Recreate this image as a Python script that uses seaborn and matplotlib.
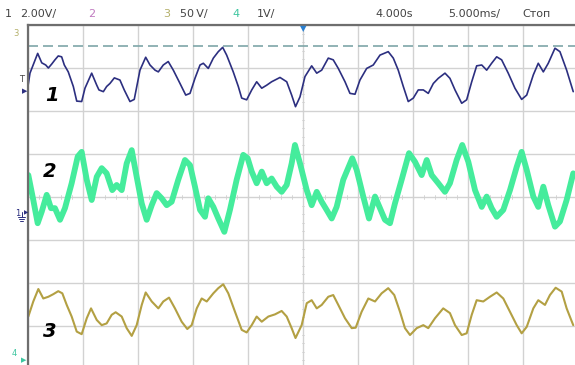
import numpy as np
import pandas as pd
import matplotlib
matplotlib.use("Agg")
import matplotlib.pyplot as plt
from matplotlib.lines import Line2D
import seaborn as sns

# time axis in ms (5 ms/div), levels in screen divisions (0 = centre line)
t1 = [0.00, 0.18, 0.88, 1.25, 1.61, 1.85, 2.15, 2.45, 2.75, 3.06, 3.30, 3.66, 4.12, 4.43, 4.88,
      5.18, 5.79, 6.25, 6.45, 6.85, 7.15, 7.45, 7.85, 8.36, 8.75, 9.27, 9.66, 10.18, 10.70, 11.09,
      11.55, 11.85, 12.30, 12.75, 13.21, 13.82, 14.34, 14.73, 15.18, 15.64, 15.94, 16.39, 16.85,
      17.30, 17.70, 18.06, 18.66, 19.12, 19.43, 19.88, 20.34, 20.79, 21.25, 21.70, 22.15, 22.91,
      23.52, 23.97, 24.32, 24.73, 25.18, 25.79, 26.25, 26.70, 27.30, 27.75, 28.21, 28.82, 29.27,
      29.73, 30.18, 30.79, 31.39, 32.00, 32.75, 33.21, 33.66, 34.12, 34.57, 35.03, 35.48, 35.94,
      36.39, 36.85, 37.30, 37.91, 38.36, 38.82, 39.43, 39.88, 40.34, 40.79, 41.25, 41.70, 42.15,
      42.61, 43.06, 43.66, 44.27, 44.88, 45.34, 45.94, 46.39, 46.85, 47.30, 47.91, 48.36, 48.97, 49.57]
v1 = [2.58, 2.88, 3.34, 3.12, 3.07, 3.00, 3.09, 3.19, 3.28, 3.26, 3.07, 2.91, 2.57, 2.23, 2.22,
      2.53, 2.88, 2.60, 2.49, 2.45, 2.57, 2.64, 2.77, 2.72, 2.49, 2.22, 2.27, 2.95, 3.25, 3.07,
      2.95, 2.91, 3.07, 3.15, 2.95, 2.64, 2.37, 2.41, 2.76, 3.07, 3.11, 2.99, 3.23,
      3.38, 3.48, 3.30, 2.91, 2.57, 2.30, 2.26, 2.49, 2.68, 2.53, 2.60, 2.68, 2.78,
      2.68, 2.37, 2.10, 2.33, 2.80, 3.05, 2.88, 2.95, 3.23, 3.19, 2.99, 2.68, 2.41,
      2.39, 2.72, 2.99, 3.07, 3.30, 3.38, 3.23, 2.95, 2.57, 2.22, 2.30, 2.49, 2.49,
      2.41, 2.64, 2.76, 2.88, 2.76, 2.49, 2.18, 2.26, 2.68, 3.05, 3.07, 2.95, 3.11,
      3.26, 3.19, 2.88, 2.53, 2.27, 2.37, 2.84, 3.11, 2.91, 3.11, 3.46, 3.38, 2.95, 2.45]

t2 = [0.03, 0.48, 0.88, 1.25, 1.70, 2.09, 2.45, 2.91, 3.36, 3.97, 4.52, 4.88, 5.34, 5.79, 6.25,
      6.70, 7.15, 7.66, 8.06, 8.52, 8.97, 9.43, 9.88, 10.34, 10.79, 11.25, 11.70, 12.15, 12.61,
      13.06, 13.66, 14.27, 14.73, 15.18, 15.64, 16.09, 16.39, 16.85, 17.30, 17.85, 18.36, 18.97,
      19.57, 19.97, 20.34, 20.79, 21.25, 21.70, 22.15, 22.61, 23.06, 23.52, 23.97, 24.27, 24.73,
      25.34, 25.79, 26.25, 26.70, 27.15, 27.61, 28.06, 28.66, 29.48, 29.88, 30.48, 31.00, 31.55,
      32.00, 32.45, 32.91, 33.36, 33.97, 34.64, 35.18, 35.79, 36.25, 36.70, 37.30, 37.91, 38.36,
      38.97, 39.48, 40.03, 40.64, 41.25, 41.70, 42.15, 42.61, 43.21, 43.82, 44.43, 44.88, 45.34,
      45.94, 46.39, 46.85, 47.30, 47.91, 48.36, 48.97, 49.57]
v2 = [0.51, -0.07, -0.61, -0.34, 0.05, -0.26, -0.26, -0.53, -0.26, 0.32, 0.94, 1.05, 0.40, -0.07, 0.47,
      0.67, 0.55, 0.16, 0.28, 0.16, 0.78, 1.09, 0.47, -0.15, -0.53, -0.19, 0.09, -0.03, -0.19,
      -0.11, 0.40, 0.86, 0.74, 0.24, -0.30, -0.46, -0.03, -0.23, -0.50, -0.81, -0.30, 0.40,
      0.98, 0.90, 0.59, 0.32, 0.59, 0.32, 0.43, 0.24, 0.12, 0.28, 0.78, 1.21, 0.78,
      0.16, -0.19, 0.12, -0.11, -0.30, -0.50, -0.23, 0.40, 0.90, 0.63, 0.01, -0.50, 0.01,
      -0.26, -0.53, -0.61, -0.15, 0.40, 1.02, 0.82, 0.51, 0.86, 0.51, 0.32, 0.12, 0.32,
      0.86, 1.21, 0.82, 0.16, -0.23, 0.01, -0.26, -0.46, -0.30, 0.16, 0.70, 1.05, 0.63,
      0.01, -0.23, 0.24, -0.19, -0.69, -0.57, -0.07, 0.55]

t3 = [0.03, 0.48, 0.94, 1.39, 1.85, 2.30, 2.75, 3.12, 3.52, 3.97, 4.43, 4.88, 5.34, 5.73, 6.25,
      6.70, 7.15, 7.61, 7.97, 8.52, 8.97, 9.43, 9.88, 10.34, 10.70, 11.25, 11.85, 12.30, 12.82,
      13.36, 13.97, 14.48, 14.88, 15.34, 15.79, 16.25, 16.85, 17.30, 17.75, 18.21, 18.82, 19.43,
      19.88, 20.34, 20.79, 21.25, 21.85, 22.45, 23.06, 23.52, 23.97, 24.32, 24.88, 25.34, 25.79,
      26.25, 26.70, 27.30, 27.75, 28.21, 28.82, 29.43, 29.79, 30.33, 30.94, 31.55, 32.15, 32.75,
      33.30, 33.82, 34.27, 34.73, 35.34, 35.94, 36.39, 37.00, 37.75, 38.36, 38.82, 39.43, 39.88,
      40.34, 40.79, 41.39, 42.00, 42.61, 43.21, 43.82, 44.43, 44.88, 45.34, 45.94, 46.39, 47.00,
      47.45, 47.97, 48.52, 48.97, 49.57]
v3 = [-2.78, -2.43, -2.14, -2.36, -2.32, -2.26, -2.19, -2.24, -2.51, -2.78, -3.13, -3.19, -2.82, -2.59, -2.86,
      -2.98, -2.94, -2.74, -2.68, -2.78, -3.05, -3.23, -2.98, -2.51, -2.22, -2.43, -2.59, -2.43, -2.34,
      -2.59, -2.90, -3.07, -2.98, -2.59, -2.36, -2.43, -2.24, -2.12, -2.03, -2.24, -2.67, -3.09,
      -3.15, -2.98, -2.78, -2.90, -2.78, -2.73, -2.65, -2.78, -3.05, -3.28, -2.98, -2.47, -2.40,
      -2.59, -2.51, -2.32, -2.28, -2.51, -2.82, -3.05, -3.04, -2.67, -2.36, -2.43, -2.24, -2.12,
      -2.28, -2.67, -3.05, -3.21, -3.05, -2.98, -3.05, -2.82, -2.59, -2.70, -2.98, -3.21, -3.17,
      -2.74, -2.40, -2.43, -2.32, -2.22, -2.36, -2.67, -2.98, -3.17, -3.02, -2.59, -2.40, -2.51,
      -2.28, -2.11, -2.20, -2.59, -2.98]

trigger_level = 3.51
trace_labels = ["1", "2", "3"]
trace_colors = ["#2c2f80", "#45ec9c", "#b3a043"]


def main():
    sns.set_theme(style="white")
    plt.rcParams["font.family"] = ["DejaVu Sans"]

    fig = plt.figure(figsize=(5.75, 3.65), dpi=100)
    ax = fig.add_axes([28 / 575, 0, 1 - 28 / 575, 340 / 365])

    # grid, 10 x 8 divisions
    ax.set_xlim(0, 49.73)
    ax.set_ylim(-3.907, 4.0)
    ax.set_xticks(np.arange(0, 50, 5))
    ax.set_yticks(np.arange(-3, 5, 1))
    ax.grid(True, color="#d2d2d2", lw=1.0)
    ax.tick_params(length=0, labelleft=False, labelbottom=False)
    for s in ["right", "bottom"]:
        ax.spines[s].set_visible(False)
    for s in ["left", "top"]:
        ax.spines[s].set_color("#6e6e6e")
        ax.spines[s].set_linewidth(1.6)

    # small ticks on the centre lines
    for x in np.arange(0, 50, 1):
        ax.plot([x, x], [-0.05, 0.05], color="#d0d0d0", lw=0.6)
    for y in np.arange(-3.8, 4.0, 0.2):
        ax.plot([24.88, 25.12], [y, y], color="#d0d0d0", lw=0.6)

    ax.axhline(trigger_level, color="#7ea6a8", lw=1.2, ls=(0, (6, 3)))

    d1 = pd.DataFrame({"t": t1, "v": v1})
    d2 = pd.DataFrame({"t": t2, "v": v2})
    d3 = pd.DataFrame({"t": t3, "v": v3})
    sns.lineplot(data=d2, x="t", y="v", ax=ax, color=trace_colors[1], lw=4.2, estimator=None, sort=False)
    sns.lineplot(data=d1, x="t", y="v", ax=ax, color=trace_colors[0], lw=1.2, estimator=None, sort=False)
    sns.lineplot(data=d3, x="t", y="v", ax=ax, color=trace_colors[2], lw=1.5, estimator=None, sort=False)
    ax.set_xlabel("")
    ax.set_ylabel("")

    # trace numbers
    for lab, (x, y) in zip(trace_labels, [(2.2, 2.37), (2.0, 0.6), (2.0, -3.12)]):
        ax.text(x, y, lab, fontsize=14, fontweight="bold", fontstyle="italic", color="black",
                ha="center", va="center")

    # header bar
    hdr = [(5, "1", "#444444"), (20, "2.00V/", "#444444"), (88, "2", "#c07ac0"),
           (163, "3", "#b4b06a"), (180, "50\u2009V/", "#444444"), (232, "4", "#3dc6a0"),
           (257, "1V/", "#444444"), (375, "4.000s", "#444444"), (448, "5.000ms/", "#444444"),
           (522, "Стоп", "#444444")]
    for x, s, c in hdr:
        fig.text(x / 575, 1 - 14 / 365, s, fontsize=8, color=c, ha="left", va="center")

    # left side markers
    fig.text(13 / 575, 1 - 33 / 365, "3", fontsize=6, color="#b4b06a", ha="left", va="center")
    fig.text(19 / 575, 1 - 80 / 365, "T", fontsize=6, color="#444444", ha="left", va="center")
    fig.text(25 / 575, 1 - 91 / 365, "\u25b6", fontsize=5, color="#2c2f80", ha="center", va="center")
    fig.text(15 / 575, 1 - 213 / 365, "1", fontsize=6, color="#2c2f80", ha="left", va="center")
    # ground symbol, drawn as a shape
    gx, gy = 21.5, 212.0
    for x0, x1, y0, y1 in [(gx, gx, gy, gy + 5), (gx - 3.5, gx + 3.5, gy + 5, gy + 5),
                           (gx - 2.3, gx + 2.3, gy + 7, gy + 7), (gx - 1.1, gx + 1.1, gy + 9, gy + 9)]:
        fig.add_artist(Line2D([x0 / 575, x1 / 575], [1 - y0 / 365, 1 - y1 / 365],
                              color="#2c2f80", lw=0.7, transform=fig.transFigure))
    fig.text(26 / 575, 1 - 213 / 365, "\u25b6", fontsize=4, color="#2c2f80", ha="center", va="center")
    fig.text(12 / 575, 1 - 354 / 365, "4", fontsize=6, color="#3dc6a0", ha="left", va="center")
    fig.text(24 / 575, 1 - 360 / 365, "\u25b6", fontsize=5, color="#3dc6a0", ha="center", va="center")
    fig.text(303 / 575, 1 - 29 / 365, "\u25bc", fontsize=6, color="#2a7fd0", ha="center", va="center")

    fig.savefig("out.png", dpi=100)
    plt.close(fig)


if __name__ == "__main__":
    main()
